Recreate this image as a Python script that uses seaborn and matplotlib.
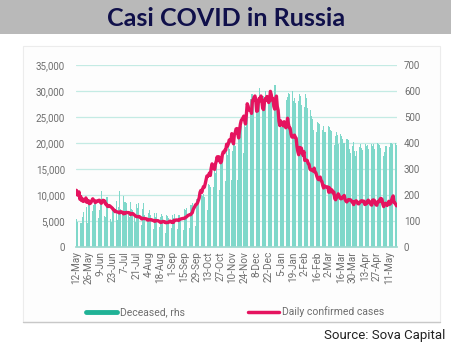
import numpy as np
import pandas as pd
import matplotlib
matplotlib.use("Agg")
import matplotlib.pyplot as plt
from matplotlib.lines import Line2D
from matplotlib.patches import Rectangle
import seaborn as sns

# Daily confirmed cases (left axis), 12-May-2020 .. 20-May-2021
cases_may20 = [10899, 10028, 9974, 10598, 9200, 9709, 8926, 9263, 8764, 8849, 8894, 9434, 8599, 8946, 8915, 8338, 8371, 8572, 8952, 9268]
cases_jun20 = [9035, 8863, 8536, 8831, 8726, 8855, 8984, 8985, 8595, 8404, 8779, 8987, 8706, 8835, 8246, 8248, 7843, 7790, 7972, 7889, 7728, 7600, 7425, 7176, 7113, 6800, 6852, 6791, 6719, 6693]
cases_jul20 = [6556, 6760, 6632, 6736, 6611, 6368, 6562, 6509, 6635, 6632, 6615, 6611, 6537, 6248, 6422, 6428, 6406, 6214, 6109, 5940, 5842, 5862, 5811, 5871, 5765, 5635, 5395, 5475, 5509, 5482, 5462]
cases_aug20 = [5427, 5394, 5159, 5204, 5241, 5212, 5267, 5189, 5118, 5102, 4945, 5102, 5057, 5065, 5061, 4969, 4839, 4718, 4748, 4870, 4921, 4838, 4852, 4676, 4696, 4744, 4711, 4829, 4980, 4897, 4729]
cases_sep20 = [4952, 4729, 5110, 5099, 5205, 5195, 5185, 5099, 5218, 5363, 5406, 5449, 5488, 5509, 5529, 5670, 5762, 5905, 6065, 6148, 6196, 6215, 6431, 6595, 7212, 7523, 7867, 8135, 8232, 8481]
cases_oct20 = [8945, 9412, 10499, 10888, 10499, 11115, 11615, 11493, 12126, 12846, 13634, 13592, 13868, 14231, 13754, 15150, 15982, 15700, 15099, 14922, 15971, 16521, 17340, 16710, 17347, 16550, 16202, 16474, 17717, 18283, 18140]
cases_nov20 = [18665, 18648, 19768, 19404, 19851, 20582, 20498, 20396, 21798, 20977, 19851, 21608, 21983, 22702, 22778, 21798, 20977, 22410, 23610, 24318, 24581, 24822, 25173, 24326, 23675, 25487, 27543, 27100, 26338, 26402]
cases_dec20 = [26402, 25694, 28145, 28209, 28782, 29039, 28137, 26097, 26190, 27927, 28585, 28137, 29039, 28080, 26689, 26430, 27787, 28552, 28209, 28948, 28585, 27787, 28145, 29935, 29258, 28284, 28552, 27039, 26513, 27747, 29018]
cases_jan21 = [27029, 26301, 24150, 23351, 24246, 23541, 23652, 23309, 24092, 23309, 22934, 23315, 24763, 23652, 22934, 22851, 21734, 21152, 21127, 21152, 21513, 21127, 20921, 19290, 18317, 17741, 19138, 18241, 19032, 18359, 17648]
cases_feb21 = [18359, 16643, 16714, 16688, 16627, 16048, 15916, 15068, 14828, 14858, 14742, 14585, 15167, 14405, 14261, 13675, 13201, 12953, 13233, 13447, 12742, 12604, 11823, 11359, 11741, 11597, 11534, 11571]
cases_mar21 = [11534, 10535, 11359, 10595, 11045, 10880, 10408, 10554, 9327, 9079, 9445, 9808, 10226, 9908, 9437, 9270, 9304, 9632, 9699, 9908, 9149, 8826, 8662, 8921, 9128, 9073, 9088, 8979, 8683, 8711, 8162]
cases_apr21 = [8711, 8792, 8885, 8646, 8328, 8294, 8634, 8679, 8885, 8869, 8702, 8810, 8173, 8326, 8313, 8814, 9014, 8632, 8632, 8164, 8053, 8996, 9056, 8984, 8425, 8114, 8034, 8731, 8780, 8697]
cases_may21 = [9270, 9328, 9159, 8227, 7770, 8271, 8419, 8335, 7975, 8280, 8790, 8217, 8380, 8951, 9462, 9820, 8554, 8474, 8217, 7920]

# Deceased (right axis)
deaths_may20 = [107, 96, 93, 113, 119, 94, 91, 115, 135, 127, 150, 139, 153, 92, 174, 161, 174, 232, 181, 138]
deaths_jun20 = [162, 182, 178, 169, 197, 134, 112, 144, 171, 216, 174, 181, 113, 119, 117, 194, 193, 181, 182, 161, 109, 95, 153, 154, 176, 92, 188, 176, 104, 154]
deaths_jul20 = [216, 147, 168, 135, 134, 198, 173, 174, 169, 180, 188, 132, 114, 175, 147, 143, 176, 161, 119, 95, 165, 150, 168, 130, 95, 94, 85, 147, 169, 122, 161]
deaths_aug20 = [95, 70, 95, 129, 144, 124, 129, 70, 77, 70, 129, 114, 129, 110, 114, 119, 77, 114, 128, 121, 125, 119, 60, 55, 122, 121, 113, 114, 121, 80, 74]
deaths_sep20 = [123, 110, 126, 114, 116, 52, 69, 123, 124, 112, 119, 125, 63, 67, 145, 141, 150, 122, 168, 65, 73, 162, 160, 169, 163, 166, 95, 80, 186, 169]
deaths_oct20 = [186, 169, 117, 128, 201, 197, 202, 191, 186, 174, 202, 141, 244, 239, 232, 286, 184, 214, 229, 317, 286, 312, 283, 278, 229, 219, 320, 346, 366, 355, 334]
deaths_nov20 = [245, 253, 389, 355, 386, 378, 349, 286, 256, 368, 432, 439, 387, 411, 395, 256, 442, 456, 463, 466, 467, 401, 361, 491, 463, 524, 510, 496, 408, 415]
deaths_dec20 = [569, 589, 589, 560, 526, 478, 425, 561, 562, 569, 613, 601, 457, 480, 560, 580, 574, 599, 589, 481, 471, 561, 567, 599, 580, 590, 510, 532, 623, 623, 570]
deaths_jan21 = [565, 482, 478, 454, 480, 463, 480, 470, 486, 470, 416, 566, 576, 594, 587, 599, 456, 471, 600, 561, 575, 553, 540, 486, 470, 562, 589, 579, 548, 556, 463]
deaths_feb21 = [481, 539, 588, 575, 536, 520, 433, 424, 528, 502, 493, 451, 426, 397, 425, 444, 480, 478, 474, 480, 347, 389, 450, 467, 444, 444, 427, 396]
deaths_mar21 = [395, 465, 460, 450, 445, 478, 392, 285, 391, 428, 441, 430, 398, 345, 378, 436, 427, 417, 400, 400, 340, 346, 414, 414, 413, 377, 362, 381, 395, 388, 402]
deaths_apr21 = [369, 350, 371, 345, 323, 376, 386, 396, 381, 374, 344, 321, 377, 398, 389, 391, 376, 373, 359, 395, 396, 390, 397, 378, 368, 361, 372, 400, 398, 392]
deaths_may21 = [382, 393, 366, 343, 351, 366, 387, 390, 374, 372, 362, 384, 400, 401, 398, 377, 378, 382, 399, 394]

tick_labels = ["12-May", "26-May", "9-Jun", "23-Jun", "7-Jul", "21-Jul", "4-Aug", "18-Aug",
               "1-Sep", "15-Sep", "29-Sep", "13-Oct", "27-Oct", "10-Nov", "24-Nov", "8-Dec",
               "22-Dec", "5-Jan", "19-Jan", "2-Feb", "16-Feb", "2-Mar", "16-Mar", "30-Mar",
               "13-Apr", "27-Apr", "11-May"]

cases = (cases_may20 + cases_jun20 + cases_jul20 + cases_aug20 + cases_sep20 + cases_oct20 +
         cases_nov20 + cases_dec20 + cases_jan21 + cases_feb21 + cases_mar21 + cases_apr21 + cases_may21)
deaths = (deaths_may20 + deaths_jun20 + deaths_jul20 + deaths_aug20 + deaths_sep20 + deaths_oct20 +
          deaths_nov20 + deaths_dec20 + deaths_jan21 + deaths_feb21 + deaths_mar21 + deaths_apr21 + deaths_may21)

df = pd.DataFrame({"day": np.arange(len(cases)), "cases": cases, "deaths": deaths})

sns.set_theme(style="white")
plt.rcParams["font.family"] = ["Roboto", "DejaVu Sans"]

BAR = "#7fd8ca"
LINE = "#e5135f"
GRID = "#c4ebe4"
TXT = "#6e6e6e"

fig = plt.figure(figsize=(4.52, 3.47), dpi=100)
fig.patch.set_facecolor("white")

# Title banner
fig.patches.append(Rectangle((0, 1 - 34 / 347), 1, 34 / 347, transform=fig.transFigure,
                             facecolor="#b9b9b9", edgecolor="none", zorder=-2))
fig.text(0.5, 1 - 18 / 347, "Casi COVID in Russia", ha="center", va="center",
         fontsize=18, fontweight="bold", color="#10104a",
         family=["Lato", "DejaVu Sans"])

# panel frame
fig.patches.append(Rectangle((23 / 452, 1 - 322 / 347), (440 - 23) / 452, (322 - 46) / 347,
                             transform=fig.transFigure, facecolor="#fdfdfd",
                             edgecolor="#ececec", lw=0.8, zorder=-2))
fig.add_artist(Line2D([23 / 452, 440 / 452], [1 - 322 / 347, 1 - 322 / 347],
                      transform=fig.transFigure, color="#c8c8c8", lw=1.0, zorder=-1))

ax2 = fig.add_axes([76 / 452, 1 - 247 / 347, (397 - 76) / 452, (247 - 65) / 347])
ax = ax2.twinx()
ax2.set_zorder(1)
ax.set_zorder(2)

# bars on rhs axis
ax2.bar(df["day"], df["deaths"], width=0.7, color=BAR, linewidth=0, zorder=2)
ax2.set_ylim(0, 700)
ax2.set_yticks(np.arange(0, 701, 100))
ax2.yaxis.tick_right()
ax2.yaxis.set_label_position("right")
ax2.grid(axis="y", color=GRID, lw=0.9)
ax2.grid(axis="x", visible=False)
ax2.set_axisbelow(True)
ax2.set_facecolor("none")

# line on lhs axis
sns.lineplot(data=df, x="day", y="cases", ax=ax, color=LINE, lw=2.4, zorder=5)
ax.set_ylim(0, 35000)
ax.set_yticks(np.arange(0, 35001, 5000))
ax.yaxis.tick_left()
ax.yaxis.set_label_position("left")
ax.set_yticklabels([f"{v:,}" for v in range(0, 35001, 5000)])
ax.grid(False)
ax.set_xlabel("")
ax.set_ylabel("")
ax.patch.set_visible(False)

ax2.set_xlim(-0.5, len(cases) - 0.5)
ax.set_xlim(-0.5, len(cases) - 0.5)
ax2.set_xticks(np.arange(0, len(tick_labels) * 14, 14))
ax2.set_xticklabels(tick_labels, rotation=90)

for a in (ax, ax2):
    for s in a.spines.values():
        s.set_visible(False)
    a.tick_params(axis="both", labelsize=7, colors=TXT, length=0, pad=2)
ax2.spines["bottom"].set_visible(True)
ax2.spines["bottom"].set_color("#9fd9cf")
ax2.tick_params(axis="x", length=2, color="#9fd9cf", pad=1, labelsize=7.2)
ax2.tick_params(axis="y", pad=5)
ax.tick_params(axis="y", pad=8)
ax.tick_params(axis="x", labelbottom=False)

# legend
handles = [Line2D([], [], color="#20b296", lw=3.5), Line2D([], [], color=LINE, lw=2.5)]
fig.legend(handles, ["Deceased, rhs", "Daily confirmed cases"], loc="center",
           bbox_to_anchor=(0.52, 1 - 312 / 347), ncol=2, frameon=False, fontsize=7.5,
           handlelength=3.0, handletextpad=0.3, columnspacing=6.0, labelcolor=TXT)

fig.text(445 / 452, 1 - 336 / 347, "Source: Sova Capital", ha="right", va="center",
         fontsize=9.5, color="#222222", family=["Liberation Sans Narrow", "Roboto", "DejaVu Sans"])

fig.savefig("out.png", dpi=100)
